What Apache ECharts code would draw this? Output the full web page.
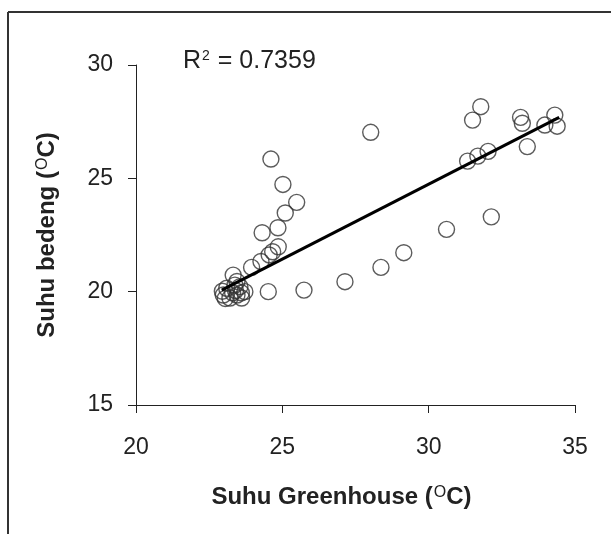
<!DOCTYPE html>
<html>
<head>
<meta charset="utf-8">
<script src="https://cdn.jsdelivr.net/npm/echarts@6/dist/echarts.min.js"></script>
<style>
html,body{margin:0;padding:0;background:#fff;}
#chart{width:611px;height:534px;}
</style>
</head>
<body>
<div id="chart"></div>
<script>
// Suhu Greenhouse (x) vs Suhu bedeng (y)
const greenhouseTemp = [
  28.02, 31.78, 31.50, 33.14, 33.20, 34.31, 33.97, 34.39, 33.37, 31.33, 31.68, 32.03,
  32.14, 30.61, 29.15, 28.37, 27.14, 25.74, 24.52,
  24.61, 25.02, 25.49, 25.10, 24.85, 24.31, 24.86, 24.67, 24.55, 24.27, 23.95, 23.32, 23.45,
  22.98, 22.95, 23.10, 23.38, 23.55, 23.72, 23.61, 23.21, 23.30, 23.45, 23.05, 23.40, 23.60
];
const bedengTemp = [
  27.03, 28.16, 27.57, 27.69, 27.43, 27.79, 27.35, 27.30, 26.40, 25.76, 25.98, 26.19,
  23.30, 22.75, 21.72, 21.07, 20.44, 20.07, 20.00,
  25.85, 24.73, 23.94, 23.47, 22.82, 22.60, 21.98, 21.76, 21.62, 21.33, 21.07, 20.73, 20.45,
  19.85, 20.02, 20.15, 20.29, 20.22, 20.00, 19.72, 19.72, 19.95, 19.85, 19.70, 20.05, 19.95
];
// Trend line endpoints
const trendX = [22.93, 34.46];
const trendY = [20.07, 27.69];
const xTicks = [20, 25, 30, 35];
const yTicks = [15, 20, 25, 30];
const r2Value = '0.7359';

const points = greenhouseTemp.map((x, i) => [x, bedengTemp[i]]);
const trend = trendX.map((x, i) => [x, trendY[i]]);

const chart = echarts.init(document.getElementById('chart'), null, {renderer: 'canvas'});
const font = 'Liberation Sans, Arial, Helvetica, sans-serif';
const axisColor = '#222';
const titleRich = {
  t: {fontSize: 24, fontWeight: 'bold', fontFamily: font, color: '#222'},
  s: {fontSize: 16, fontWeight: 'normal', fontFamily: font, color: '#222', verticalAlign: 'top', padding: [0, 0, 9, 1]}
};

chart.setOption({
  backgroundColor: '#fff',
  animation: false,
  grid: {left: 136, top: 65, right: 36, bottom: 129, containLabel: false},
  xAxis: {
    type: 'value', min: xTicks[0], max: xTicks[xTicks.length - 1], interval: 5,
    axisLine: {show: true, onZero: false, lineStyle: {color: axisColor, width: 1}},
    axisTick: {show: true, inside: false, length: 8, lineStyle: {color: axisColor}},
    splitLine: {show: false},
    axisLabel: {color: '#222', fontSize: 23, fontFamily: font, margin: 31},
    name: '{t|Suhu Greenhouse (}{s|O}{t|C)}',
    nameLocation: 'middle', nameGap: 80,
    nameTextStyle: {rich: titleRich, padding: [0, 28, 0, 0]}
  },
  yAxis: {
    type: 'value', min: yTicks[0], max: yTicks[yTicks.length - 1], interval: 5,
    axisLine: {show: true, onZero: false, lineStyle: {color: axisColor, width: 1}},
    axisTick: {show: true, inside: false, length: 8, lineStyle: {color: axisColor}},
    splitLine: {show: false},
    axisLabel: {color: '#222', fontSize: 23, fontFamily: font, margin: 23},
    name: '{t|Suhu bedeng (}{s|O}{t|C)}',
    nameLocation: 'middle', nameGap: 76, nameRotate: 90,
    nameTextStyle: {rich: titleRich}
  },
  graphic: [
    {type: 'line', shape: {x1: 8, y1: 12, x2: 611, y2: 12}, style: {stroke: '#333', lineWidth: 2}},
    {type: 'line', shape: {x1: 8, y1: 12, x2: 8, y2: 534}, style: {stroke: '#333', lineWidth: 2}},
    {type: 'text', left: 183, top: 49, style: {
      text: '{a|R}{b|2}{a| = ' + r2Value + '}',
      rich: {
        a: {fontSize: 25, fontFamily: font, fill: '#222', color: '#222'},
        b: {fontSize: 14, fontFamily: font, fill: '#222', color: '#222', verticalAlign: 'top', padding: [0, 1, 10, 1]}
      }
    }}
  ],
  series: [
    {
      type: 'scatter', data: points, symbol: 'circle', symbolSize: 16, z: 2,
      itemStyle: {color: 'rgba(255,255,255,0)', borderColor: '#333', borderWidth: 1.4}
    },
    {
      type: 'line', data: trend, showSymbol: false, symbol: 'none', z: 3,
      lineStyle: {color: '#000', width: 3}
    }
  ]
});
</script>
</body>
</html>
